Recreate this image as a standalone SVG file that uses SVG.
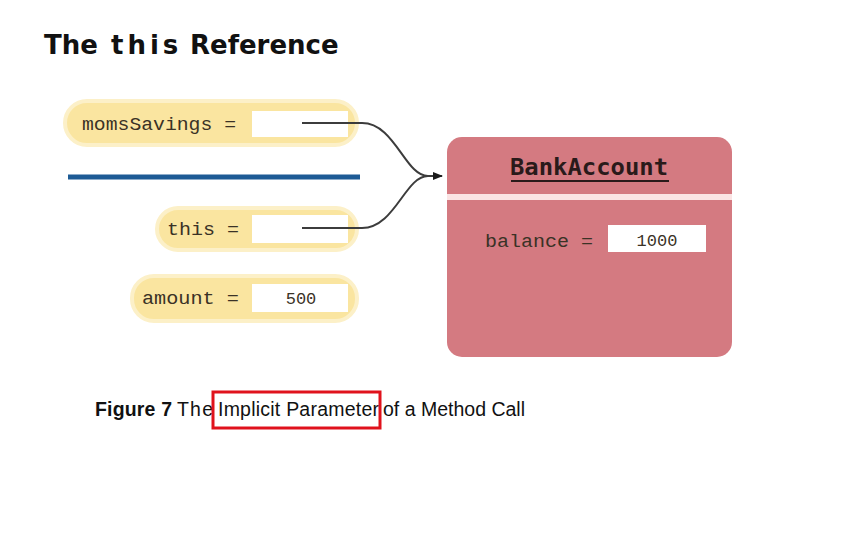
<svg xmlns="http://www.w3.org/2000/svg" width="859" height="549" viewBox="0 0 859 549">
<style>
.pill{fill:#fae5a0;stroke:#fcf0c8;stroke-width:4}
.box{fill:#ffffff}
.var{font-family:"Liberation Mono","DejaVu Sans Mono",monospace;font-size:19px;fill:#3a3226}
.val{font-family:"Liberation Mono","DejaVu Sans Mono",monospace;font-size:17px;fill:#3a3226;text-anchor:middle}
.conn{fill:none;stroke:#3c3c3c;stroke-width:2}
</style>
<defs>
<marker id="arr" markerWidth="10" markerHeight="8" refX="9" refY="4" orient="auto" markerUnits="userSpaceOnUse">
<path d="M0,0 L10,4 L0,8 Z" fill="#1a1a1a"/>
</marker>
</defs>
<rect width="859" height="549" fill="#ffffff"/>
<text y="54" font-family="'DejaVu Sans',Verdana,sans-serif" font-weight="bold" font-size="26" fill="#111"><tspan x="44">The</tspan><tspan x="111" letter-spacing="4">this</tspan><tspan x="190">Reference</tspan></text>

<g id="momsSavings">
<rect class="pill" x="65" y="101" width="292" height="44" rx="22"/>
<rect class="box" x="252" y="111" width="96" height="26"/>
<text class="var" x="82" y="130" textLength="154" lengthAdjust="spacingAndGlyphs">momsSavings =</text>
</g>

<line id="divider" x1="68" y1="177" x2="360" y2="177" stroke="#1d5b95" stroke-width="5"/>

<g id="this">
<rect class="pill" x="157" y="208" width="200" height="42" rx="21"/>
<rect class="box" x="252" y="215" width="96" height="28"/>
<text class="var" x="167" y="235" textLength="72" lengthAdjust="spacingAndGlyphs">this =</text>
</g>

<g id="amount">
<rect class="pill" x="132" y="276" width="225" height="45" rx="22"/>
<rect class="box" x="252" y="284" width="96" height="28"/>
<text class="var" x="142" y="304" textLength="97" lengthAdjust="spacingAndGlyphs">amount =</text>
<text class="val" x="301" y="304">500</text>
</g>

<g id="bankAccount">
<rect x="447" y="137" width="285" height="220" rx="15" fill="#d47a81"/>
<rect x="447" y="194" width="285" height="6" fill="#fbe4e4"/>
<text x="589" y="175" text-anchor="middle" font-family="'DejaVu Sans Mono',monospace" font-weight="bold" font-size="23" fill="#2a1a1a" textLength="158" lengthAdjust="spacingAndGlyphs">BankAccount</text>
<line x1="511" y1="181" x2="669" y2="181" stroke="#2a1a1a" stroke-width="2"/>
<text class="var" x="485" y="247" textLength="108" lengthAdjust="spacingAndGlyphs">balance =</text>
<rect class="box" x="608" y="225" width="98" height="27"/>
<text class="val" x="657" y="246">1000</text>
</g>

<g id="connectors">
<path class="conn" d="M302,123 H362 C395,123 405,176 428,176 L442,176" marker-end="url(#arr)"/>
<path class="conn" d="M302,228 H362 C395,228 405,176 428,176"/>
</g>

<g id="caption">
<text y="416" font-family="'Liberation Sans',Arial,sans-serif" font-size="19.5" fill="#111"><tspan x="95" font-weight="bold" textLength="77">Figure 7</tspan><tspan x="177" textLength="36">The</tspan><tspan x="218" textLength="161">Implicit Parameter</tspan><tspan x="383" textLength="142">of a Method Call</tspan></text>
<rect x="213" y="392" width="167" height="36" fill="none" stroke="#e0121c" stroke-width="3"/>
</g>
</svg>
